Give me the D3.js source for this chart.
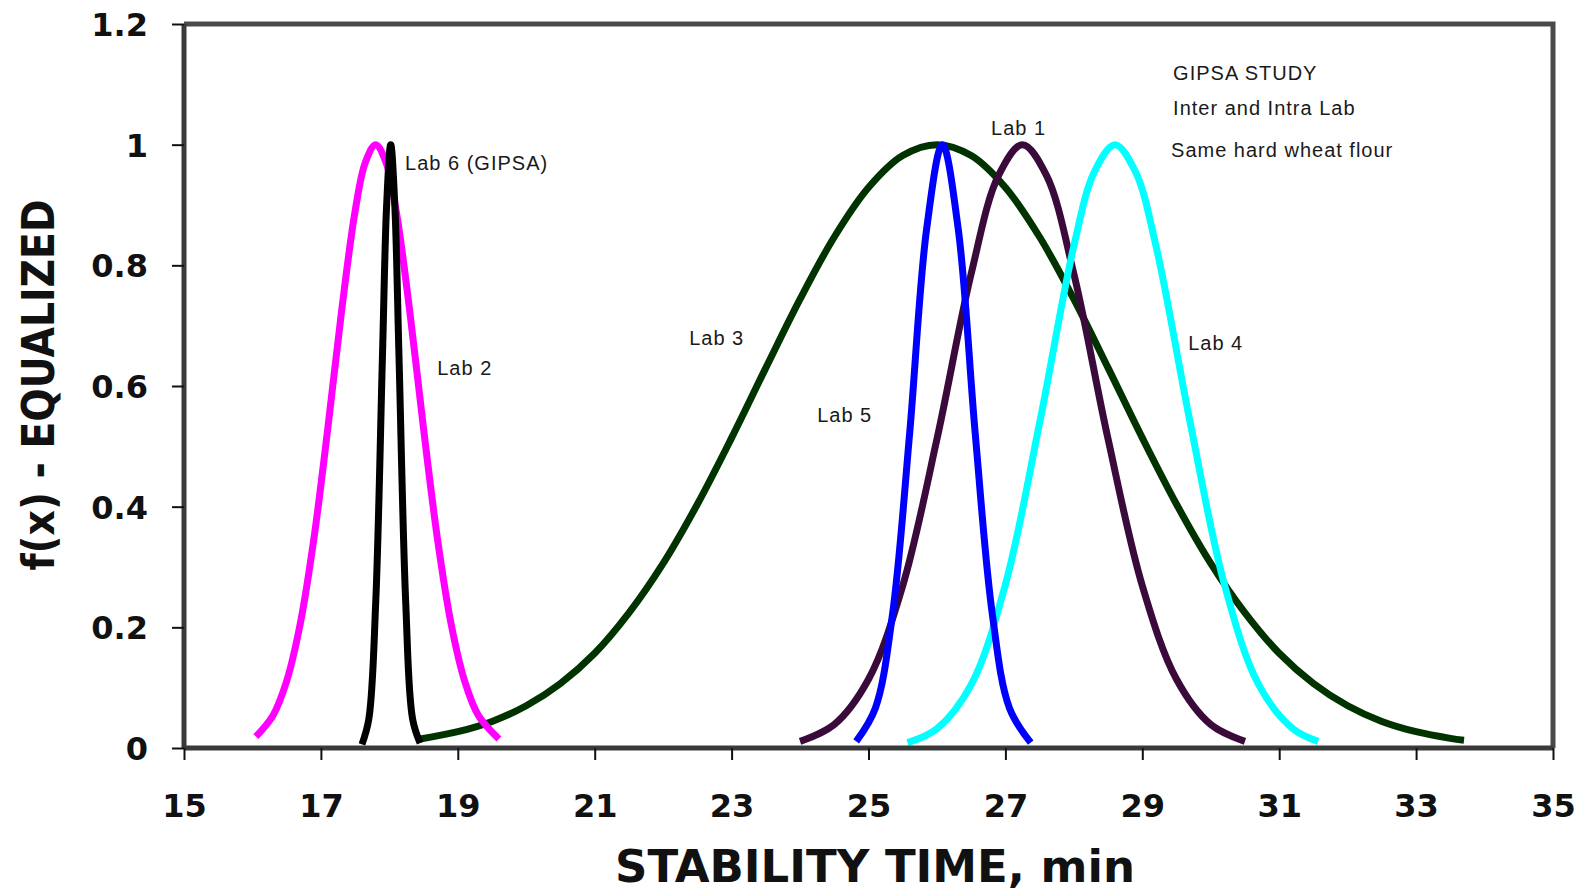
<head>
<meta charset="utf-8">
<script src="https://d3js.org/d3.v7.min.js"></script>
<style>
  body { margin: 0; background: #fff; }
  .tick-label { font: bold 32px "DejaVu Sans"; fill: #111; }
  .note { font: 20px "Liberation Sans"; letter-spacing: 1px; fill: #1a1a1a; }
  .title { font-family: "DejaVu Sans"; font-weight: bold; fill: #111; }
</style>
</head>
<body>
<svg width="1585" height="895" id="chart"></svg>
<script>

// stability time (min) and equalized f(x)
var lab2X = [16.05, 16.3, 16.5, 16.7, 16.9, 17.1, 17.3, 17.5, 17.65, 17.8, 17.95, 18.1, 18.3, 18.5, 18.7, 18.9, 19.1, 19.3, 19.6];
var lab2Y = [0.019, 0.054, 0.111, 0.207, 0.349, 0.529, 0.722, 0.890, 0.971, 1, 0.971, 0.890, 0.722, 0.529, 0.349, 0.207, 0.111, 0.054, 0.015];

var lab6X = [17.6, 17.7, 17.8, 17.9, 17.96, 18.02, 18.08, 18.14, 18.24, 18.34, 18.45];
var lab6Y = [0.006, 0.048, 0.239, 0.653, 0.899, 1, 0.899, 0.653, 0.239, 0.048, 0.008];

var lab3X = [18.45, 19.0, 19.5, 20.0, 20.5, 21.0, 21.5, 22.0, 22.5, 23.0, 23.5, 24.0, 24.5, 25.0, 25.5, 26.0,
             26.5, 27.0, 27.5, 28.0, 28.5, 29.0, 29.5, 30.0, 30.5, 31.0, 31.5, 32.0, 32.5, 33.0, 33.5, 33.7];
var lab3Y = [0.015, 0.027, 0.044, 0.070, 0.107, 0.157, 0.224, 0.306, 0.404, 0.514, 0.630, 0.744, 0.847, 0.929, 0.982, 1,
             0.982, 0.929, 0.847, 0.744, 0.630, 0.514, 0.404, 0.306, 0.224, 0.157, 0.107, 0.070, 0.044, 0.027, 0.016, 0.013];

var lab1X = [24.0, 24.5, 25.0, 25.5, 26.0, 26.5, 26.9, 27.25, 27.6, 28.0, 28.5, 29.0, 29.5, 30.0, 30.5];
var lab1Y = [0.011, 0.039, 0.114, 0.269, 0.512, 0.786, 0.949, 1, 0.949, 0.786, 0.512, 0.269, 0.114, 0.039, 0.011];

var lab5X = [24.82, 25.1, 25.35, 25.6, 25.85, 26.08, 26.31, 26.56, 26.81, 27.06, 27.37];
var lab5Y = [0.011, 0.066, 0.221, 0.520, 0.861, 1, 0.861, 0.520, 0.221, 0.066, 0.009];

var lab4X = [25.57, 26.0, 26.5, 27.0, 27.5, 28.0, 28.3, 28.6, 28.9, 29.2, 29.7, 30.2, 30.7, 31.2, 31.57];
var lab4Y = [0.009, 0.032, 0.105, 0.271, 0.539, 0.832, 0.955, 1, 0.955, 0.832, 0.539, 0.271, 0.105, 0.032, 0.011];

var xTicks = [15, 17, 19, 21, 23, 25, 27, 29, 31, 33, 35];
var yTicks = [0, 0.2, 0.4, 0.6, 0.8, 1, 1.2];

var labNames = ["Lab 3", "Lab 1", "Lab 4", "Lab 5", "Lab 2", "Lab 6 (GIPSA)"];
var labXs = [lab3X, lab1X, lab4X, lab5X, lab2X, lab6X];
var labYs = [lab3Y, lab1Y, lab4Y, lab5Y, lab2Y, lab6Y];

// label anchors in data units
var noteText = ["Lab 6 (GIPSA)", "Lab 2", "Lab 3", "Lab 5", "Lab 1", "Lab 4",
                "GIPSA STUDY", "Inter and Intra Lab", "Same hard wheat flour"];
var noteX = [18.23, 18.70, 22.38, 24.25, 26.79, 29.67, 29.45, 29.45, 29.42];
var noteY = [0.958, 0.618, 0.668, 0.540, 1.016, 0.660, 1.108, 1.050, 0.980];

var colors = {"Lab 3": "#003300", "Lab 1": "#3a0a3a", "Lab 4": "#00ffff",
              "Lab 5": "#0000ff", "Lab 2": "#ff00ff", "Lab 6 (GIPSA)": "#000000"};

var svg = d3.select("#chart"),
    margin = {top: 24, right: 32, bottom: 147, left: 184},
    width = +svg.attr("width") - margin.left - margin.right,
    height = +svg.attr("height") - margin.top - margin.bottom;

var x = d3.scaleLinear().domain([15, 35]).range([margin.left, margin.left + width]);
var y = d3.scaleLinear().domain([0, 1.2]).range([margin.top + height, margin.top]);

var series = labNames.map((name, i) => ({
  name: name,
  points: labXs[i].map((v, j) => [v, labYs[i][j]])
}));

// frame: top and right border
svg.append("path")
  .attr("d", `M${x(15)},${y(1.2)}H${x(35)}V${y(0)}`)
  .attr("fill", "none")
  .attr("stroke", "#4a4a4a")
  .attr("stroke-width", 5);

var line = d3.line()
  .x(d => x(d[0]))
  .y(d => y(d[1]))
  .curve(d3.curveCatmullRom);

svg.selectAll(".lab")
  .data(series)
  .enter().append("path")
  .attr("class", "lab")
  .attr("d", d => line(d.points))
  .attr("fill", "none")
  .attr("stroke", d => colors[d.name])
  .attr("stroke-width", 7)
  .attr("stroke-linejoin", "round");

var xAxis = svg.append("g")
  .attr("transform", "translate(0," + y(0) + ")")
  .call(d3.axisBottom(x).tickValues(xTicks).tickSize(12).tickFormat(d3.format("d")));

var yAxis = svg.append("g")
  .attr("transform", "translate(" + x(15) + ",0)")
  .call(d3.axisLeft(y).tickValues(yTicks).tickSize(12).tickFormat(d => d === 0 || d === 1 ? d : d3.format(".1f")(d)));

[xAxis, yAxis].forEach(g => {
  g.select(".domain").attr("stroke", "#3a3a3a").attr("stroke-width", 5);
  g.selectAll(".tick line").attr("stroke", "#111").attr("stroke-width", 2);
  g.selectAll(".tick text").attr("class", "tick-label").attr("font-size", null).attr("font-family", null);
});

xAxis.selectAll(".tick text").attr("y", 0).attr("dy", 69);
yAxis.selectAll(".tick text").attr("x", -36).attr("dy", "0.36em");

// plain axis lines without the outer end bits
xAxis.select(".domain").attr("d", `M${x(15)},0H${x(35)}`);
yAxis.select(".domain").attr("d", `M0,${y(0)}V${y(1.2)}`);

svg.selectAll(".note")
  .data(noteText)
  .enter().append("text")
  .attr("class", "note")
  .attr("x", (d, i) => x(noteX[i]))
  .attr("y", (d, i) => y(noteY[i]))
  .text(d => d);

svg.append("text")
  .attr("class", "title")
  .attr("x", 875)
  .attr("y", 882)
  .attr("text-anchor", "middle")
  .attr("font-size", 45)
  .text("STABILITY TIME, min");

svg.append("text")
  .attr("class", "title")
  .attr("transform", "translate(54,385) rotate(-90)")
  .attr("text-anchor", "middle")
  .attr("font-size", 44)
  .attr("textLength", 371)
  .attr("lengthAdjust", "spacingAndGlyphs")
  .text("f(x) - EQUALIZED");

</script>
</body>
